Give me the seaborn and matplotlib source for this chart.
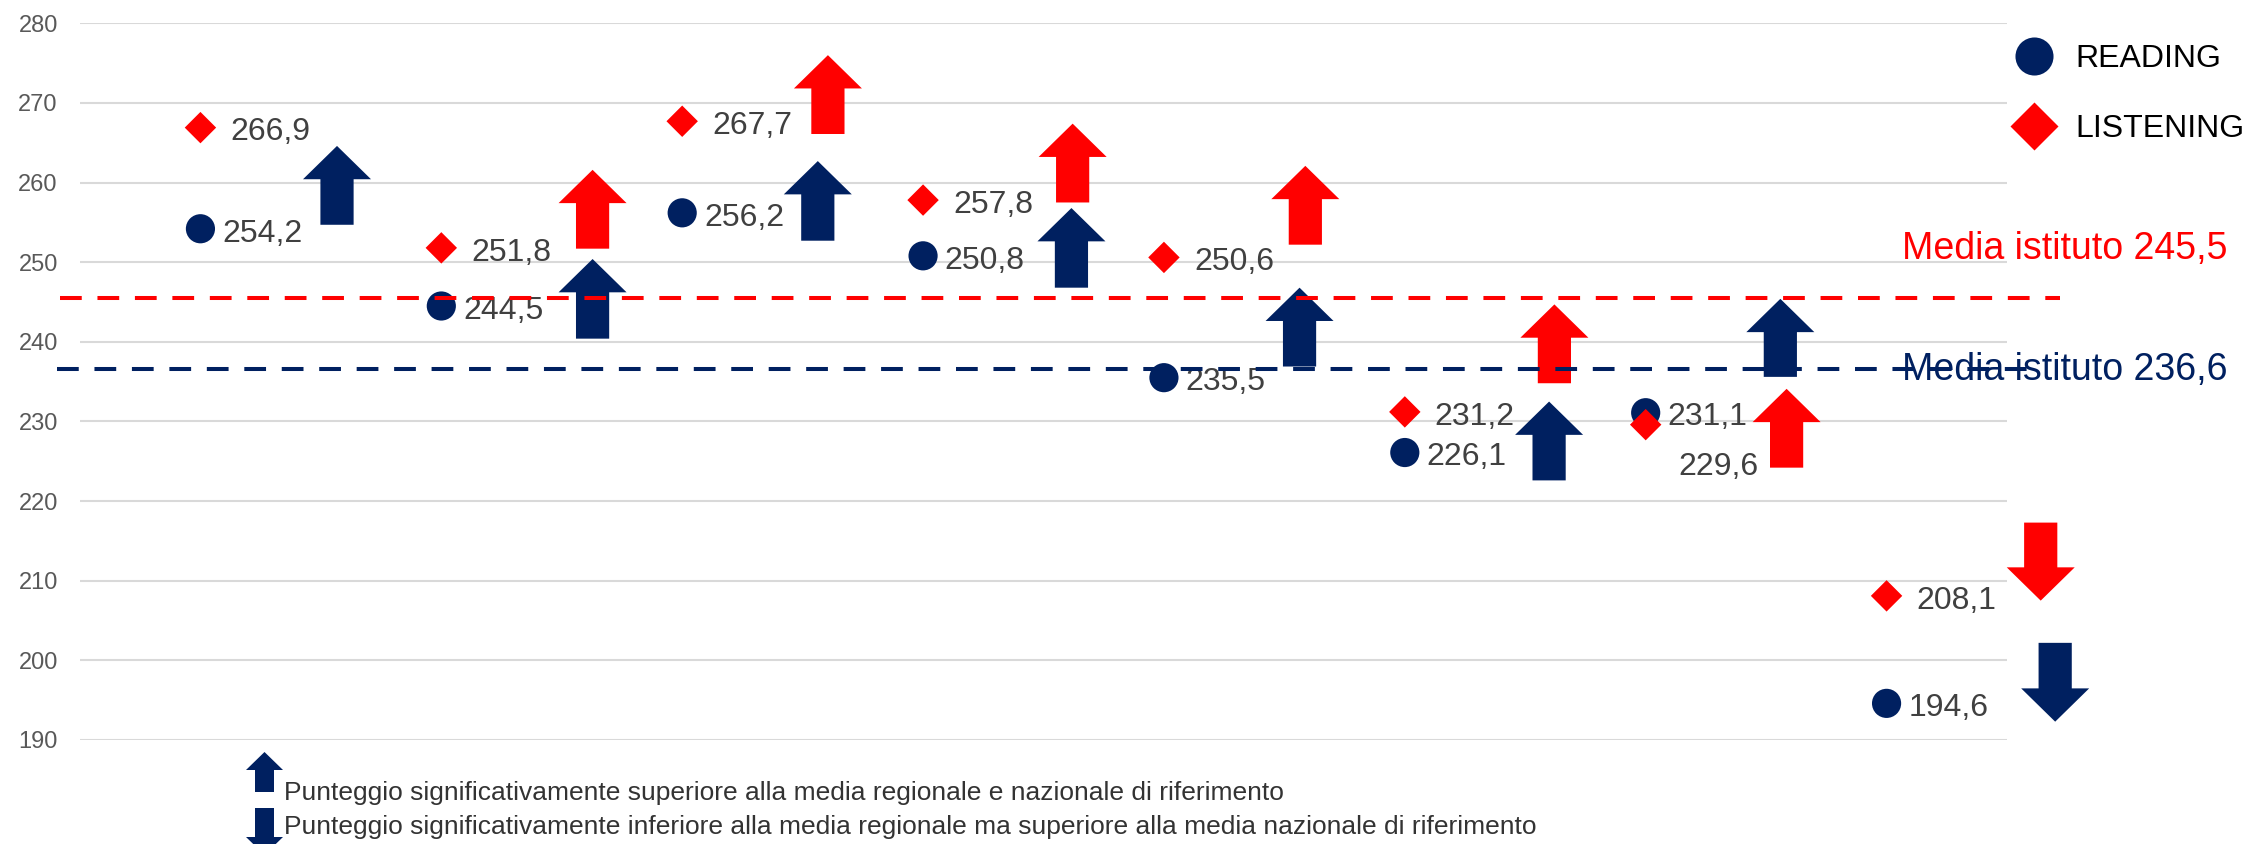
import matplotlib.pyplot as plt
import matplotlib.transforms as mtransforms
from matplotlib.lines import Line2D
from matplotlib.patches import Polygon
import pandas as pd
import seaborn as sns

# Dati: punteggi medi per classe
classi = [0, 1, 2, 3, 4, 5, 6, 7]
reading = [254.2, 244.5, 256.2, 250.8, 235.5, 226.1, 231.1, 194.6]
listening = [266.9, 251.8, 267.7, 257.8, 250.6, 231.2, 229.6, 208.1]
media_reading = 236.6
media_listening = 245.5

# significativita' rispetto alle medie di riferimento (freccia su / giu)
sig_reading = ['up', 'up', 'up', 'up', 'up', 'up', 'up', 'down']
sig_listening = [None, 'up', 'up', 'up', 'up', 'up', 'up', 'down']

# posizionamento delle frecce (scostamento orizzontale, coda, punta)
arr_dx_reading = [0.567, 0.628, 0.563, 0.616, 0.563, 0.599, 0.559, 0.70]
arr_tail_reading = [254.7, 240.4, 252.7, 246.8, 236.9, 222.6, 235.6, 202.2]
arr_tip_reading = [264.6, 250.4, 262.7, 256.8, 246.8, 232.5, 245.4, 192.3]
arr_dx_listening = [0, 0.628, 0.605, 0.621, 0.587, 0.621, 0.585, 0.64]
arr_tail_listening = [0, 251.7, 266.1, 257.5, 252.2, 234.8, 224.2, 217.3]
arr_tip_listening = [0, 261.6, 276.0, 267.4, 262.1, 244.7, 234.1, 207.5]

W, H, DPI = 2251, 844, 100
NAVY = '#002060'
RED = '#FF0000'
LABEL = '#404040'

sns.set_theme(style='white')
plt.rcParams['font.family'] = ['Liberation Sans', 'DejaVu Sans']

fig = plt.figure(figsize=(W / DPI, H / DPI), dpi=DPI)
fig.patch.set_facecolor('white')

# area del grafico in pixel
L, R, T, B = 80, 2007, 23.3, 740
ax = fig.add_axes([L / W, 1 - B / H, (R - L) / W, (B - T) / H])
XMIN, XMAX = -0.5, 7.5
ax.set_xlim(XMIN, XMAX)
ax.set_ylim(190, 280)
px_x = (R - L) / (XMAX - XMIN)
px_y = (B - T) / 90.0

df = pd.DataFrame({
    'classe': classi * 2,
    'punteggio': reading + listening,
    'prova': ['READING'] * len(classi) + ['LISTENING'] * len(classi),
})

sns.scatterplot(data=df[df['prova'] == 'READING'], x='classe', y='punteggio',
                marker='o', s=21 ** 2, color=NAVY, edgecolor='none',
                ax=ax, zorder=4, legend=False)
sns.scatterplot(data=df[df['prova'] == 'LISTENING'], x='classe', y='punteggio',
                marker='D', s=16 ** 2, color=RED, edgecolor='none',
                ax=ax, zorder=5, legend=False)

ax.set_yticks(range(190, 281, 10))
ax.set_xticks([])
ax.set_xlabel('')
ax.set_ylabel('')
ax.grid(axis='y', color='#D9D9D9', lw=1.5)
ax.set_axisbelow(True)
sns.despine(ax=ax, left=True, bottom=True)
ax.tick_params(axis='y', length=0, pad=16, labelsize=17, labelcolor='#595959')


def fmt(v):
    return f"{v:.1f}".replace('.', ',')


def block_arrow(x, tail, tip, color):
    hw = 34 / px_x
    sw = 16.6 / px_x
    sign = 1 if tip > tail else -1
    neck = tip - sign * 33.3 / px_y
    verts = [(x - sw, tail), (x - sw, neck), (x - hw, neck), (x, tip),
             (x + hw, neck), (x + sw, neck), (x + sw, tail)]
    ax.add_patch(Polygon(verts, closed=True, facecolor=color, edgecolor='none',
                         clip_on=False, zorder=3))


for i in range(len(classi)):
    if sig_reading[i]:
        block_arrow(classi[i] + arr_dx_reading[i], arr_tail_reading[i], arr_tip_reading[i], NAVY)
    if sig_listening[i]:
        block_arrow(classi[i] + arr_dx_listening[i], arr_tail_listening[i], arr_tip_listening[i], RED)

# etichette dei valori
for i, v in enumerate(reading):
    ax.annotate(fmt(v), (classi[i], v), xytext=(15.7, -9.2), textcoords='offset points',
                ha='left', va='baseline', fontsize=23, color=LABEL, zorder=6)
for i, v in enumerate(listening):
    off = (21.6, -9.2)
    if i == 6:
        off = (23.4, -36)
    ax.annotate(fmt(v), (classi[i], v), xytext=off, textcoords='offset points',
                ha='left', va='baseline', fontsize=23, color=LABEL, zorder=6)

# linee della media d'istituto
ax.axhline(media_listening, xmin=(60 - L) / (R - L), xmax=(2060 - L) / (R - L),
           color=RED, lw=2.9, ls=(0, (5.4, 3.9)), clip_on=False, zorder=7)
ax.axhline(media_reading, xmin=(57 - L) / (R - L), xmax=(2040 - L) / (R - L),
           color=NAVY, lw=2.9, ls=(0, (5.4, 3.9)), clip_on=False, zorder=7)

blend = mtransforms.blended_transform_factory(ax.transAxes, ax.transData)
xt = (2228 - L) / (R - L)
ax.text(xt, media_listening + 4.9, f"Media istituto {fmt(media_listening)}", transform=blend,
        ha='right', va='baseline', fontsize=27, color=RED, clip_on=False)
ax.text(xt, media_reading - 1.4, f"Media istituto {fmt(media_reading)}", transform=blend,
        ha='right', va='baseline', fontsize=27, color=NAVY, clip_on=False, zorder=8)

# legenda
handles = [
    Line2D([], [], ls='none', marker='o', markersize=27.4, color=NAVY, markeredgecolor='none'),
    Line2D([], [], ls='none', marker='D', markersize=24, color=RED, markeredgecolor='none'),
]
fig.legend(handles, ['READING', 'LISTENING'], loc='upper left',
           bbox_to_anchor=(2018 / W, 1 - 44 / H), frameon=False, fontsize=23,
           handlelength=1.0, handletextpad=0.8, labelspacing=1.25,
           borderpad=0, borderaxespad=0, labelcolor='black')


# nota esplicativa in basso
def fig_arrow(cx, tail, tip, neck, hw, sw):
    pts = [(cx - sw, tail), (cx - sw, neck), (cx - hw, neck), (cx, tip),
           (cx + hw, neck), (cx + sw, neck), (cx + sw, tail)]
    pts = [(px / W, 1 - py / H) for px, py in pts]
    fig.patches.append(Polygon(pts, closed=True, facecolor=NAVY, edgecolor='none',
                               transform=fig.transFigure, figure=fig))


fig_arrow(264.5, 792, 752, 770, 18.5, 9.5)
fig_arrow(264.5, 808, 855, 837, 18.5, 9.5)
fig.text(284 / W, 1 - 800 / H,
         'Punteggio significativamente superiore alla media regionale e nazionale di riferimento',
         fontsize=19, va='baseline', color='#333333')
fig.text(284 / W, 1 - 834 / H,
         'Punteggio significativamente inferiore alla media regionale ma superiore alla media nazionale di riferimento',
         fontsize=19, va='baseline', color='#333333')

plt.savefig('out.png', dpi=DPI, facecolor='white')
